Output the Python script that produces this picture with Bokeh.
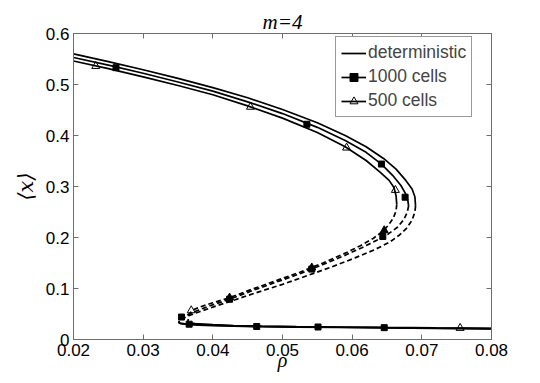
from bokeh.plotting import figure
from bokeh.models import Range1d, LinearAxis, FixedTicker, Legend, LegendItem, CustomJSTickFormatter
from bokeh.embed import file_html
from bokeh.resources import INLINE

# ---------------- data ----------------
# deterministic
D_up_rho = [0.0200, 0.0250, 0.0300, 0.0350, 0.0400, 0.0450, 0.0500, 0.0550, 0.0590, 0.0620, 0.0645, 0.0663, 0.0677, 0.0686, 0.0690, 0.0691]
D_up_x = [0.560, 0.545, 0.529, 0.512, 0.494, 0.474, 0.451, 0.425, 0.400, 0.378, 0.355, 0.334, 0.312, 0.295, 0.280, 0.262]
D_dn_rho = [0.0691, 0.0690, 0.0686, 0.0678, 0.0668, 0.0654, 0.0632, 0.0604, 0.0570, 0.0535, 0.0500, 0.0465, 0.0432, 0.0403, 0.0382, 0.0366, 0.0357, 0.0352]
D_dn_x = [0.262, 0.250, 0.234, 0.218, 0.205, 0.191, 0.176, 0.160, 0.142, 0.125, 0.108, 0.093, 0.078, 0.065, 0.055, 0.047, 0.041, 0.036]
D_lo_rho = [0.0352, 0.0351, 0.0354, 0.0362, 0.0380, 0.0400, 0.0430, 0.0470, 0.0520, 0.0580, 0.0650, 0.0720, 0.0800]
D_lo_x = [0.036, 0.033, 0.031, 0.0295, 0.0280, 0.0270, 0.0260, 0.0250, 0.0243, 0.0235, 0.0226, 0.0218, 0.0210]

# 1000 cells
S_up_rho = [0.0200, 0.0250, 0.0300, 0.0350, 0.0400, 0.0450, 0.0500, 0.0550, 0.0590, 0.0620, 0.0642, 0.0658, 0.0670, 0.0677, 0.0680, 0.0681]
S_up_x = [0.553, 0.538, 0.522, 0.505, 0.487, 0.466, 0.443, 0.416, 0.390, 0.367, 0.344, 0.322, 0.302, 0.285, 0.272, 0.262]
S_dn_rho = [0.0681, 0.0679, 0.0674, 0.0665, 0.0652, 0.0636, 0.0614, 0.0588, 0.0558, 0.0525, 0.0490, 0.0457, 0.0424, 0.0400, 0.0380, 0.0366, 0.0357, 0.0352, 0.0351]
S_dn_x = [0.262, 0.249, 0.235, 0.220, 0.207, 0.195, 0.180, 0.164, 0.147, 0.129, 0.112, 0.096, 0.079, 0.068, 0.058, 0.050, 0.044, 0.039, 0.035]
S_lo_rho = [0.0351, 0.0353, 0.0360, 0.0380, 0.0400, 0.0430, 0.0470, 0.0520, 0.0580, 0.0650, 0.0720, 0.0800]
S_lo_x = [0.035, 0.032, 0.0305, 0.0290, 0.0280, 0.0268, 0.0257, 0.0248, 0.0240, 0.0231, 0.0223, 0.0215]
S_mk_rho = [0.0261, 0.0535, 0.0642, 0.0676, 0.0644, 0.0542, 0.0424, 0.0355, 0.0366, 0.0463, 0.0551, 0.0646]
S_mk_x = [0.533, 0.422, 0.344, 0.279, 0.202, 0.138, 0.079, 0.044, 0.030, 0.0255, 0.0245, 0.0232]

# 500 cells
T_up_rho = [0.0200, 0.0250, 0.0300, 0.0350, 0.0400, 0.0450, 0.0500, 0.0550, 0.0590, 0.0620, 0.0640, 0.0653, 0.0660, 0.0663, 0.0664]
T_up_x = [0.546, 0.531, 0.515, 0.498, 0.480, 0.458, 0.434, 0.406, 0.378, 0.351, 0.328, 0.312, 0.298, 0.282, 0.265]
T_dn_rho = [0.0664, 0.0663, 0.0659, 0.0652, 0.0643, 0.0630, 0.0612, 0.0588, 0.0558, 0.0525, 0.0490, 0.0455, 0.0424, 0.0400, 0.0382, 0.0370, 0.0366, 0.0365, 0.0364]
T_dn_x = [0.265, 0.252, 0.238, 0.224, 0.211, 0.198, 0.184, 0.168, 0.150, 0.132, 0.115, 0.098, 0.082, 0.072, 0.064, 0.057, 0.049, 0.041, 0.035]
T_lo_rho = [0.0364, 0.0367, 0.0375, 0.0400, 0.0430, 0.0470, 0.0520, 0.0580, 0.0650, 0.0720, 0.0800]
T_lo_x = [0.035, 0.0325, 0.0310, 0.0290, 0.0275, 0.0263, 0.0253, 0.0245, 0.0236, 0.0228, 0.0220]
T_mk_open_rho = [0.0232, 0.0454, 0.0592, 0.0662, 0.0369, 0.0755]
T_mk_open_x = [0.536, 0.456, 0.376, 0.293, 0.057, 0.0224]
T_mk_fill_rho = [0.0424, 0.0542, 0.0646]
T_mk_fill_x = [0.082, 0.141, 0.214]

x_ticks = [0.02, 0.03, 0.04, 0.05, 0.06, 0.07, 0.08]
x_tick_labels = ["0.02", "0.03", "0.04", "0.05", "0.06", "0.07", "0.08"]
y_ticks = [0, 0.1, 0.2, 0.3, 0.4, 0.5, 0.6]
y_tick_labels = ["0", "0.1", "0.2", "0.3", "0.4", "0.5", "0.6"]

series_names = ["deterministic", "1000 cells", "500 cells"]
title_text = "m=4"
x_label = "ρ"
y_label = "⟨x⟩"

# ---------------- figure ----------------
p = figure(frame_width=418, frame_height=306, output_backend="svg", toolbar_location=None,
           x_range=Range1d(0.02, 0.08), y_range=Range1d(0, 0.6),
           min_border_left=73, min_border_right=40, min_border_top=33, min_border_bottom=36)
p.background_fill_color = "white"
p.border_fill_color = "white"
p.xgrid.visible = False
p.ygrid.visible = False
p.outline_line_color = "#444444"
p.outline_line_width = 1

TICK_FONT = "Liberation Sans"
SERIF = "Liberation Serif"
axis_color = "#6e6e6e"

def style_axis(ax, ticks, labels, show_labels):
    ax.ticker = FixedTicker(ticks=ticks)
    ax.minor_tick_line_color = None
    ax.major_tick_in = 5
    ax.major_tick_out = 0
    ax.major_tick_line_color = axis_color
    ax.axis_line_color = axis_color
    ax.axis_line_width = 1
    ax.major_label_text_font = TICK_FONT
    ax.major_label_text_color = "black"
    if show_labels:
        ax.major_label_standoff = 4
        ax.major_label_text_font_size = "17px"
        ax.major_label_overrides = {t: l for t, l in zip(ticks, labels)}
    else:
        ax.formatter = CustomJSTickFormatter(code="return '';")
        ax.major_label_standoff = 0
        ax.major_label_text_font_size = "1px"

ax_bottom = p.below[0]
ax_left = p.left[0]
style_axis(ax_bottom, x_ticks, x_tick_labels, True)
style_axis(ax_left, y_ticks, y_tick_labels, True)
ax_top = LinearAxis()
ax_right = LinearAxis()
style_axis(ax_top, x_ticks, x_tick_labels, False)
style_axis(ax_right, y_ticks, y_tick_labels, False)
p.add_layout(ax_top, "above")
p.add_layout(ax_right, "right")

# axis labels
ax_bottom.axis_label = x_label
ax_bottom.axis_label_text_font = SERIF
ax_bottom.axis_label_text_font_style = "italic"
ax_bottom.axis_label_text_font_size = "20px"
ax_bottom.axis_label_text_color = "black"
ax_bottom.axis_label_standoff = -10
ax_left.axis_label = y_label
ax_left.axis_label_text_font = "DejaVu Serif"
ax_left.axis_label_text_font_style = "italic"
ax_left.axis_label_text_font_size = "21px"
ax_left.axis_label_text_color = "black"
ax_left.axis_label_standoff = 5

# title
p.title.text = title_text
p.title.text_font = SERIF
p.title.text_font_style = "italic"
p.title.text_font_size = "21px"
p.title.text_color = "black"
p.title.align = "center"
p.title.standoff = 0

LW = 1.7
DASH = "5 3"

r_D_up = p.line(D_up_rho, D_up_x, line_color="black", line_width=LW)
p.line(D_dn_rho, D_dn_x, line_color="black", line_width=LW, line_dash=DASH)
p.line(D_lo_rho, D_lo_x, line_color="black", line_width=LW)

r_S_up = p.line(S_up_rho, S_up_x, line_color="black", line_width=LW)
p.line(S_dn_rho, S_dn_x, line_color="black", line_width=LW, line_dash=DASH)
p.line(S_lo_rho, S_lo_x, line_color="black", line_width=LW)

r_T_up = p.line(T_up_rho, T_up_x, line_color="black", line_width=LW)
p.line(T_dn_rho, T_dn_x, line_color="black", line_width=LW, line_dash=DASH)
p.line(T_lo_rho, T_lo_x, line_color="black", line_width=LW)

r_S_mk = p.scatter(S_mk_rho, S_mk_x, marker="square", size=6, fill_color="black", line_color="black")
r_T_mk = p.scatter(T_mk_open_rho, T_mk_open_x, marker="triangle", size=8, fill_color="white", fill_alpha=0.0,
                   line_color="black", line_width=1)
p.scatter(T_mk_fill_rho, T_mk_fill_x, marker="triangle", size=8, fill_color="black", line_color="black", line_width=1)

legend = Legend(items=[
    LegendItem(label=series_names[0], renderers=[r_D_up]),
    LegendItem(label=series_names[1], renderers=[r_S_up, r_S_mk]),
    LegendItem(label=series_names[2], renderers=[r_T_up, r_T_mk]),
], location=(262, 222))
legend.label_text_font = TICK_FONT
legend.label_text_font_size = "17.5px"
legend.glyph_width = 25
legend.glyph_height = 20
legend.label_height = 20
legend.label_standoff = 2
legend.spacing = 3
legend.padding = 5
legend.margin = 0
legend.border_line_color = "#333333"
legend.border_line_width = 1
legend.background_fill_color = "white"
legend.background_fill_alpha = 1.0
p.add_layout(legend)

open("out.html", "w").write(file_html(p, INLINE))
